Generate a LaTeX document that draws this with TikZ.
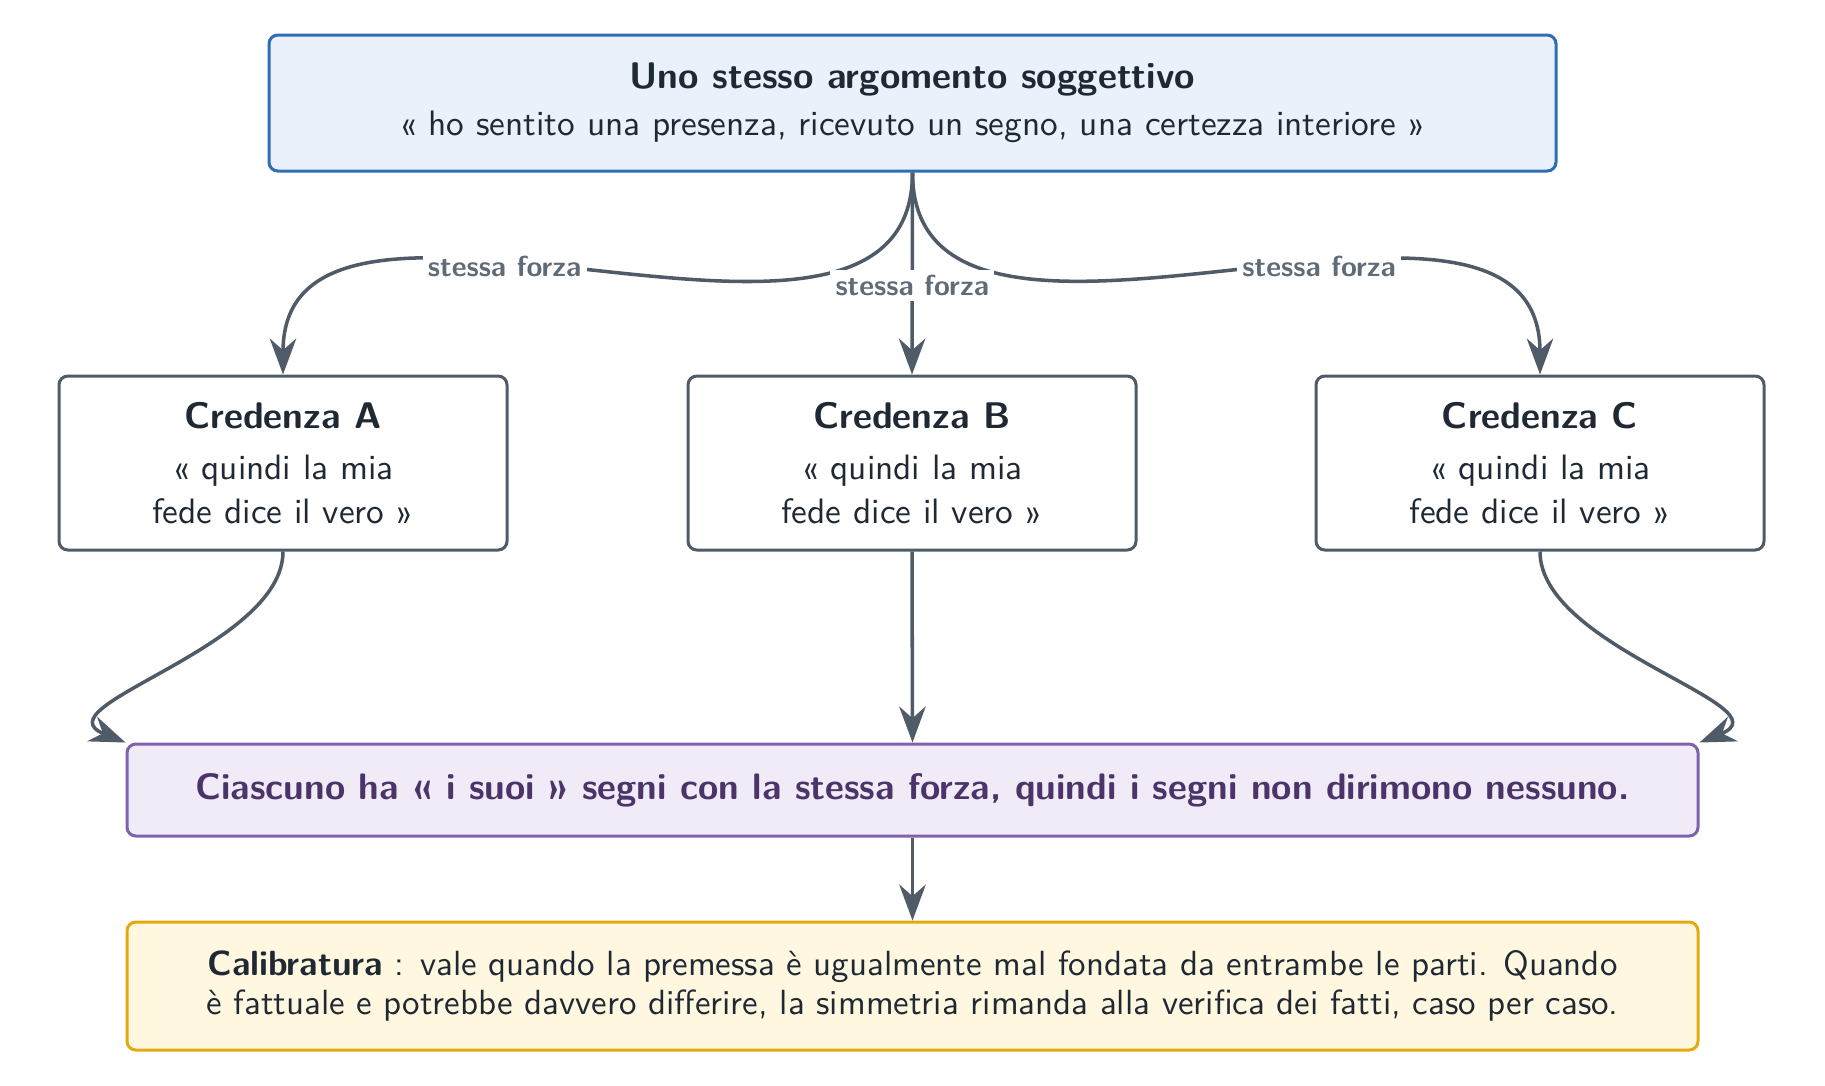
\documentclass[tikz,border=0pt]{standalone}
\usetikzlibrary{arrows.meta}
\definecolor{topfill}{HTML}{EAF1FB}
\definecolor{topdraw}{HTML}{2F6DB5}
\definecolor{conn}{HTML}{4F5B67}
\definecolor{txt}{HTML}{1F2933}
\definecolor{purfill}{HTML}{F1EBF8}
\definecolor{purdraw}{HTML}{8062AC}
\definecolor{purtxt}{HTML}{4B3469}
\definecolor{yelfill}{HTML}{FFF7E0}
\definecolor{yeldraw}{HTML}{E3AA10}
\definecolor{lblgray}{HTML}{5F6B76}
\def\PX{0.2833pt}
\newcommand\ttlfont{\bfseries\fontsize{10.5}{12.6}\selectfont}
\tikzset{
  box/.style={draw, rounded corners=2.5pt, line width=0.85pt, align=center, inner sep=0pt, text=txt, font=\sffamily\fontsize{10}{12.2}\selectfont},
  topbox/.style={box, fill=topfill, draw=topdraw, minimum width={1287*\PX}, minimum height={136*\PX}},
  credbox/.style={box, fill=white, draw=conn, minimum width={448*\PX}, minimum height={174*\PX}},
  concl/.style={box, fill=purfill, draw=purdraw, text=purtxt, minimum width={1571*\PX}, minimum height={92*\PX}},
  calib/.style={box, fill=yelfill, draw=yeldraw, minimum width={1571*\PX}, minimum height={128*\PX}, font=\sffamily\fontsize{9.9}{10.9}\selectfont},
  arr/.style={draw=conn, line width=1pt, -{Stealth[length=10.2pt,width=7.5pt]}},
  lbl/.style={fill=white, text=lblgray, inner sep=1.5pt, font=\sffamily\bfseries\fontsize{8.2}{9}\selectfont}
}
\begin{document}
\begin{tikzpicture}[x=0.2833pt, y=-0.2833pt]
\useasboundingbox (0,0) rectangle (1825,1085);
\node[topbox] (top) at (912.5,103) {{\ttlfont Uno stesso argomento soggettivo}\\[1.2pt]«~ho sentito una presenza, ricevuto un segno, una certezza interiore~»};
\node[credbox] (A) at (283,463) {{\ttlfont Credenza A}\\[2.3pt]«~quindi la mia\\fede dice il vero~»};
\node[credbox] (B) at (912,463) {{\ttlfont Credenza B}\\[2.3pt]«~quindi la mia\\fede dice il vero~»};
\node[credbox] (C) at (1540,463) {{\ttlfont Credenza C}\\[2.3pt]«~quindi la mia\\fede dice il vero~»};
\node[concl] (D) at (912.5,790) {\bfseries\fontsize{10.43}{12.6}\selectfont Ciascuno ha «~i suoi~» segni con la stessa forza, quindi i segni non dirimono nessuno.};
\node[calib] (E) at (912.5,986) {\textbf{Calibratura}~: vale quando la premessa è ugualmente mal fondata da entrambe le parti. Quando\\è fattuale e potrebbe davvero differire, la simmetria rimanda alla verifica dei fatti, caso per caso.};
\draw[arr] (top.south) to[out=-90,in=90] node[lbl,pos=0.6]{stessa forza} (A.north);
\draw[arr] (top.south) to[out=-90,in=90] node[lbl,pos=0.6]{stessa forza} (C.north);
\draw[arr] (top.south) -- node[lbl,pos=0.56]{stessa forza} (B.north);
\draw[arr] (A.south) to[out=-90,in=158] (D.north west);
\draw[arr] (C.south) to[out=-90,in=22] (D.north east);
\draw[arr] (B.south) -- (D.north);
\draw[arr] (D.south) -- (E.north);
\end{tikzpicture}
\end{document}
